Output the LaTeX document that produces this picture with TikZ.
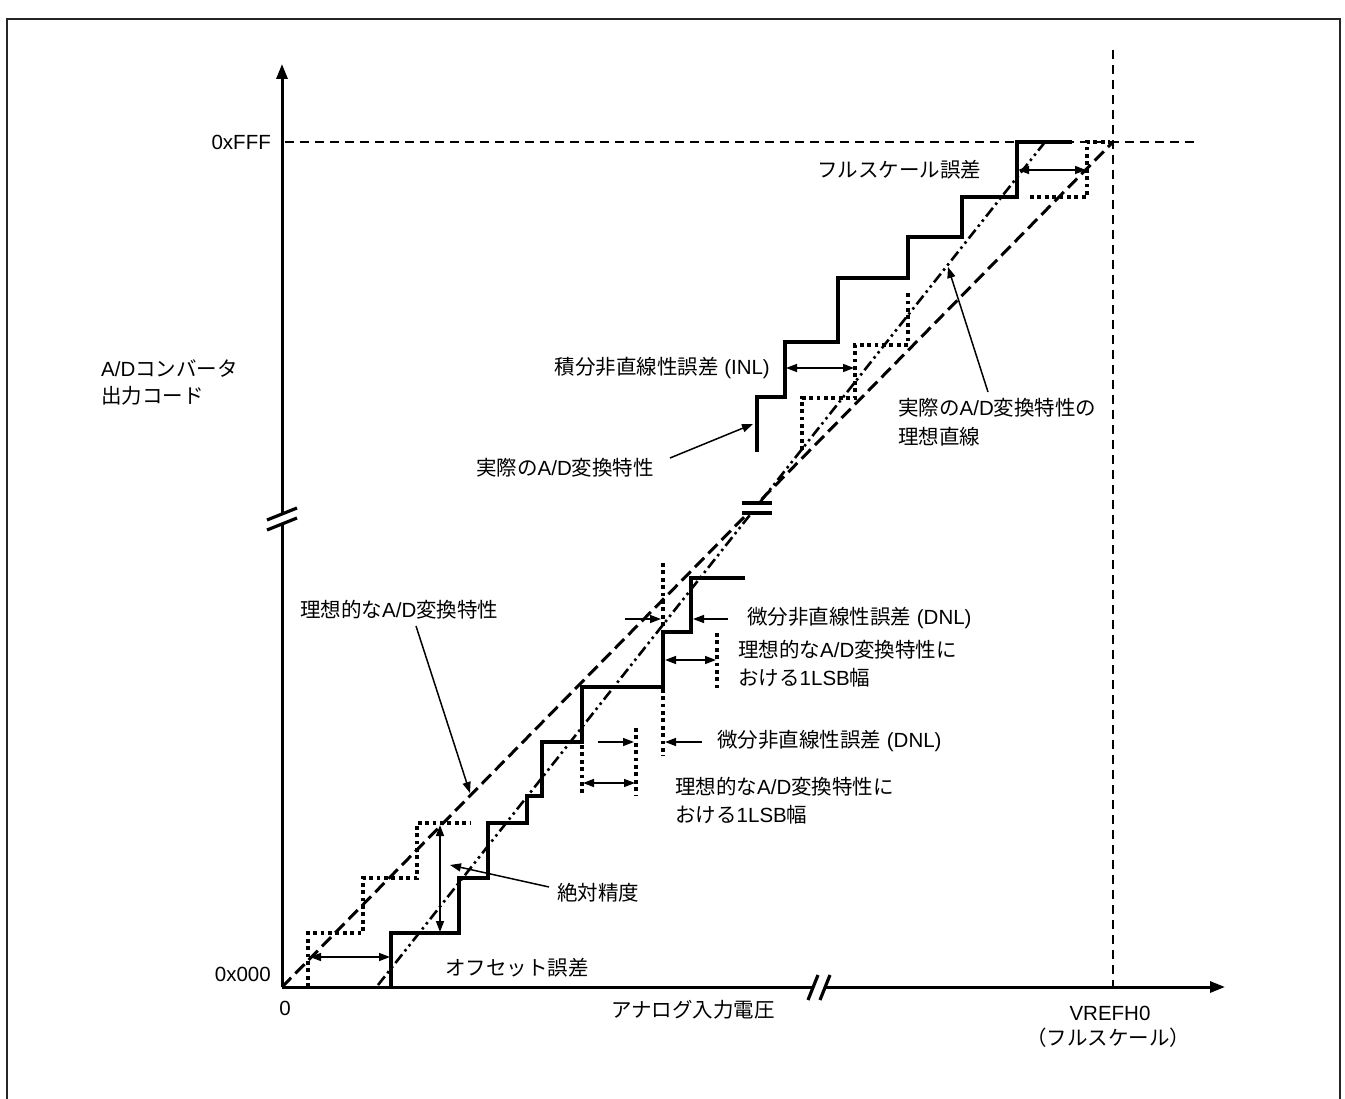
\documentclass[tikz,border=0pt]{standalone}
\usepackage{fontspec}
\setmainfont{Liberation Sans}
\newfontfamily\J{Noto Sans CJK JP}
\usetikzlibrary{arrows.meta}
\tikzset{
  axisline/.style={line width=3pt, -{Triangle[length=15pt,width=11pt]}},
  actstep/.style={line width=3.3pt, line join=miter},
  idealstep/.style={line width=4.4pt, dash pattern=on 3.8pt off 3.6pt},
  idealline/.style={line width=3pt, dash pattern=on 13pt off 6pt},
  fitline/.style={line width=2.6pt, dash pattern=on 11pt off 4pt on 2.5pt off 4pt on 2.5pt off 4pt},
  refdash/.style={line width=2.8pt, dash pattern=on 9pt off 6pt},
  ptr/.style={line width=1.5pt, -{Triangle[length=11pt,width=8pt]}},
  dbl/.style={line width=1.5pt, {Triangle[length=11pt,width=8pt]}-{Triangle[length=11pt,width=8pt]}},
  lbl/.style={inner sep=0pt, font=\fontsize{20.5pt}{25pt}\selectfont},
  brk/.style={line width=3.2pt},
  frame/.style={line width=2pt, draw=black!85}
}
\begin{document}
\begin{tikzpicture}[x=1pt,y=-1pt]
\useasboundingbox (0,0) rectangle (1345,1099);
% frame (open at the bottom)
\draw[frame] (7,1099) -- (7,19) -- (1340,19) -- (1340,1099);

% reference lines for full scale
\coordinate (ffl) at (285,142);
\coordinate (ffr) at (1197,142);
\coordinate (vt) at (1113,50);
\coordinate (vb) at (1113,987);
\draw[refdash] (ffl) -- (ffr);
\draw[refdash] (vt) -- (vb);

% axes
\coordinate (O) at (282,987);
\coordinate (ytip) at (282,64);
\coordinate (xtip) at (1225,987);
\draw[axisline] (O) -- (ytip);
\draw[axisline] (O) -- (xtip);

% ideal straight line and actual fitted line
\coordinate (ilA) at (282,987);
\coordinate (ilB) at (1113,142);
\coordinate (flA) at (378,985);
\coordinate (flB) at (1045,142);
\draw[idealline] (ilA) -- (ilB);
\draw[fitline] (flA) -- (flB);

% ideal staircase (dotted)
\draw[idealstep] (308,987) -- (308,933) -- (363,933) -- (363,878) -- (417,878) -- (417,823) -- (470,823);
\draw[idealstep] (802,450) -- (802,398) -- (855,398) -- (855,345) -- (908,345) -- (908,290);
\draw[idealstep] (1030,197) -- (1087,197) -- (1087,142) -- (1110,142);
% DNL markers (dotted)
\draw[idealstep] (582,745) -- (582,796);
\draw[idealstep] (636,728) -- (636,796);
\draw[idealstep] (663,563) -- (663,756);
\draw[idealstep] (717,633) -- (717,688);

% actual staircase (solid)
\draw[actstep] (391,987) -- (391,933) -- (459,933) -- (459,878) -- (488,878) -- (488,823) -- (527,823) -- (527,796) -- (542,796) -- (542,742) -- (582,742) -- (582,687) -- (663,687) -- (663,632) -- (691,632) -- (691,578) -- (745,578);
\draw[actstep] (757,452) -- (757,397) -- (785,397) -- (785,342) -- (838,342) -- (838,278) -- (908,278) -- (908,237) -- (962,237) -- (962,197) -- (1017,197) -- (1017,142) -- (1072,142);

% breaks
\fill[white] (741,504.5) rectangle (773,511.5);
\draw[brk] (742,503) -- (772,503);
\draw[brk] (742,513) -- (772,513);
\fill[white] (268,521) -- (296,509) -- (296,519) -- (268,531) -- cycle;
\draw[brk] (267,520) -- (297,508);
\draw[brk] (267,530) -- (297,518);
\fill[white] (811,992) -- (823,992) -- (826,982) -- (814,982) -- cycle;
\draw[brk] (808,1000) -- (818,975);
\draw[brk] (820,1000) -- (830,975);

% measurement arrows
\coordinate (offL) at (310,957); \coordinate (offR) at (390,957);
\draw[dbl] (offL) -- (offR);
\coordinate (absT) at (440,825); \coordinate (absB) at (440,932);
\draw[dbl] (absT) -- (absB);
\coordinate (lsb2L) at (583,783); \coordinate (lsb2R) at (635,783);
\draw[dbl] (lsb2L) -- (lsb2R);
\coordinate (d2a) at (598,742); \coordinate (d2b) at (634,742);
\draw[ptr] (d2a) -- (d2b);
\coordinate (d2c) at (702,742); \coordinate (d2d) at (665,742);
\draw[ptr] (d2c) -- (d2d);
\coordinate (d1a) at (625,619); \coordinate (d1b) at (661,619);
\draw[ptr] (d1a) -- (d1b);
\coordinate (d1c) at (728,619); \coordinate (d1d) at (693,619);
\draw[ptr] (d1c) -- (d1d);
\coordinate (lsb1L) at (665,660); \coordinate (lsb1R) at (716,660);
\draw[dbl] (lsb1L) -- (lsb1R);
\coordinate (inlL) at (786,368); \coordinate (inlR) at (854,368);
\draw[dbl] (inlL) -- (inlR);
\coordinate (fseL) at (1018,170); \coordinate (fseR) at (1086,170);
\draw[dbl] (fseL) -- (fseR);

% labels
\node[lbl, anchor=east] (lffff) at (271,142) {0xFFF};
\node[lbl, anchor=east] (l000) at (271,974) {0x000};
\node[lbl] (lzero) at (285,1008) {0};
\node[lbl] (lxlab) at (693,1010) {\J アナログ入力電圧};
\node[lbl] (lvref) at (1110,1013) {VREFH0};
\node[lbl] (lfs) at (1108,1038) {\J （フルスケール）};
\node[lbl, anchor=west] (ly1) at (101,369) {A/D{\J コンバータ}};
\node[lbl, anchor=west] (ly2) at (101,396) {\J 出力コード};
\node[lbl, anchor=east] (linl) at (770,368) {{\J 積分非直線性誤差} (INL)};
\node[lbl] (lact) at (565,468) {{\J 実際の}A/D{\J 変換特性}};
\node[lbl, anchor=west] (lfit1) at (898,408) {{\J 実際の}A/D{\J 変換特性の}};
\node[lbl, anchor=west] (lfit2) at (898,437) {\J 理想直線};
\node[lbl, anchor=west] (lfse) at (817,170) {\J フルスケール誤差};
\node[lbl, anchor=west] (lideal) at (300,610) {{\J 理想的な}A/D{\J 変換特性}};
\node[lbl, anchor=west] (ldnl1) at (747,618) {{\J 微分非直線性誤差} (DNL)};
\node[lbl, anchor=west] (llsb1a) at (738,650) {{\J 理想的な}A/D{\J 変換特性に}};
\node[lbl, anchor=west] (llsb1b) at (738,678) {{\J おける}1LSB{\J 幅}};
\node[lbl, anchor=west] (ldnl2) at (717,741) {{\J 微分非直線性誤差} (DNL)};
\node[lbl, anchor=west] (llsb2a) at (675,787) {{\J 理想的な}A/D{\J 変換特性に}};
\node[lbl, anchor=west] (llsb2b) at (675,815) {{\J おける}1LSB{\J 幅}};
\node[lbl, anchor=west] (labs) at (557,893) {\J 絶対精度};
\node[lbl, anchor=west] (loff) at (445,968) {\J オフセット誤差};

% pointer arrows from labels
\coordinate (pIdeal) at (470,793);
\draw[ptr] (416,626) -- (pIdeal);
\coordinate (pAbs) at (450,865);
\draw[ptr] (549,887) -- (pAbs);
\coordinate (pAct) at (753,424);
\draw[ptr] (670,458) -- (pAct);
\coordinate (pFit) at (948,267);
\draw[ptr] (988,392) -- (pFit);
\end{tikzpicture}
\end{document}
